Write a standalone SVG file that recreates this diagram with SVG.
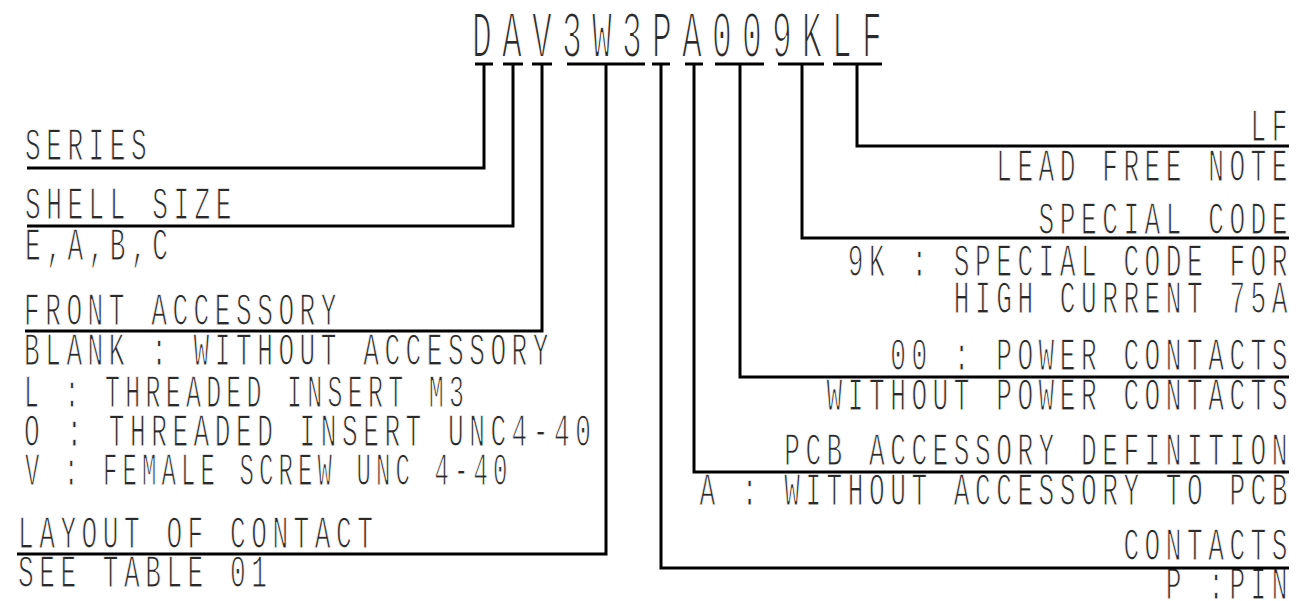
<svg xmlns="http://www.w3.org/2000/svg" width="1302" height="601" viewBox="0 0 1302 601">
<style>
.t{font-family:"Liberation Mono",monospace;font-size:46px;letter-spacing:9.7px;fill:#2a2a2a;stroke:#fff;stroke-width:1.25px}
.r{text-anchor:end}
.top{font-family:"Liberation Mono",monospace;font-size:66px;letter-spacing:20.4px;fill:#2a2a2a;stroke:#fff;stroke-width:2px}
.c{fill:none;stroke:#000;stroke-width:3}
</style>
<rect width="1302" height="601" fill="#fff"/>
<g id="code"><text class="top" x="472" y="57" textLength="420" lengthAdjust="spacingAndGlyphs">DAV3W3PA009KLF</text></g>
<g id="series"><text class="t" x="25" y="160" textLength="127.2" lengthAdjust="spacingAndGlyphs">SERIES</text></g>
<g id="shell-size"><text class="t" x="25" y="219" textLength="212" lengthAdjust="spacingAndGlyphs">SHELL SIZE</text>
<text class="t" x="25" y="260" textLength="148.4" lengthAdjust="spacingAndGlyphs">E,A,B,C</text></g>
<g id="front-accessory"><text class="t" x="24" y="325" textLength="318" lengthAdjust="spacingAndGlyphs">FRONT ACCESSORY</text>
<text class="t" x="24" y="365" textLength="530" lengthAdjust="spacingAndGlyphs">BLANK : WITHOUT ACCESSORY</text>
<text class="t" x="24" y="407" textLength="445.2" lengthAdjust="spacingAndGlyphs">L : THREADED INSERT M3</text>
<text class="t" x="24" y="446" textLength="572.4" lengthAdjust="spacingAndGlyphs">O : THREADED INSERT UNC4-40</text>
<text class="t" x="25" y="485" textLength="487.6" lengthAdjust="spacingAndGlyphs">V : FEMALE SCREW UNC 4-40</text></g>
<g id="layout"><text class="t" x="18" y="548" textLength="360.4" lengthAdjust="spacingAndGlyphs">LAYOUT OF CONTACT</text>
<text class="t" x="18" y="587" textLength="254.4" lengthAdjust="spacingAndGlyphs">SEE TABLE 01</text></g>
<g id="lead-free"><text class="t r" x="1293" y="141" textLength="42.4" lengthAdjust="spacingAndGlyphs">LF</text>
<text class="t r" x="1293" y="181" textLength="296.8" lengthAdjust="spacingAndGlyphs">LEAD FREE NOTE</text></g>
<g id="special-code"><text class="t r" x="1293" y="234" textLength="254.4" lengthAdjust="spacingAndGlyphs">SPECIAL CODE</text>
<text class="t r" x="1293" y="276" textLength="445.2" lengthAdjust="spacingAndGlyphs">9K : SPECIAL CODE FOR</text>
<text class="t r" x="1293" y="313" textLength="339.2" lengthAdjust="spacingAndGlyphs">HIGH CURRENT 75A</text></g>
<g id="power-contacts"><text class="t r" x="1293" y="370" textLength="402.8" lengthAdjust="spacingAndGlyphs">00 : POWER CONTACTS</text>
<text class="t r" x="1293" y="410" textLength="466.4" lengthAdjust="spacingAndGlyphs">WITHOUT POWER CONTACTS</text></g>
<g id="pcb-accessory"><text class="t r" x="1293" y="465" textLength="508.8" lengthAdjust="spacingAndGlyphs">PCB ACCESSORY DEFINITION</text>
<text class="t r" x="1293" y="505" textLength="593.6" lengthAdjust="spacingAndGlyphs">A : WITHOUT ACCESSORY TO PCB</text></g>
<g id="contacts"><text class="t r" x="1293" y="560" textLength="169.6" lengthAdjust="spacingAndGlyphs">CONTACTS</text>
<text class="t r" x="1293" y="599" textLength="127.2" lengthAdjust="spacingAndGlyphs">P :PIN</text></g>
<g id="connectors">
<path class="c" d="M475 64H493M484 64V168H27"/>
<path class="c" d="M503 64H523M513 64V226H27"/>
<path class="c" d="M532 64H552M542 64V331H25"/>
<path class="c" d="M567 64H645M606 64V554H17"/>
<path class="c" d="M652 64H670M661 64V568H1289"/>
<path class="c" d="M685 64H703M694 64V472H1289"/>
<path class="c" d="M715 64H764M740 64V377H1289"/>
<path class="c" d="M778 64H824M802 64V238H1289"/>
<path class="c" d="M833 64H882M857 64V146H1289"/>
</g>
</svg>
